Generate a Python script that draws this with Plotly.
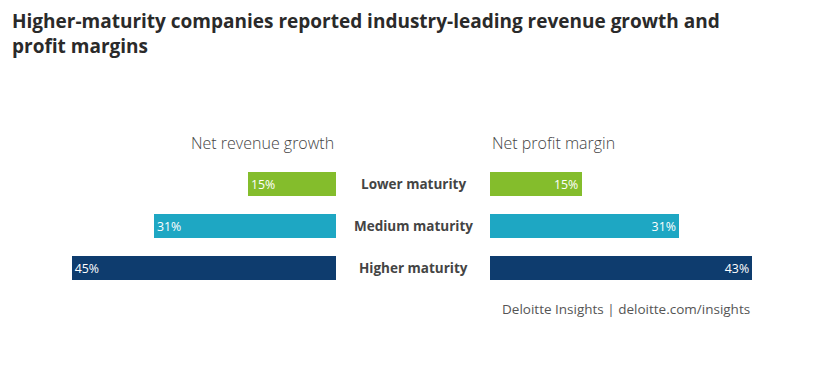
import plotly.graph_objects as go

categories = ["Lower maturity", "Medium maturity", "Higher maturity"]
revenue_growth = [15, 31, 45]
profit_margin = [15, 31, 43]
bar_colors = ["#84bd2c", "#1ea7c3", "#0e3c6e"]
headers = ["Net revenue growth", "Net profit margin"]
title_text = "Higher-maturity companies reported industry-leading revenue growth and<br>profit margins"
source_text = "Deloitte Insights | deloitte.com/insights"

W, H = 828, 371
fig = go.Figure()

fig.add_trace(go.Bar(
    y=categories, x=revenue_growth, orientation="h",
    marker=dict(color=bar_colors, line=dict(width=0)),
    text=[f"{v}%" for v in revenue_growth], textposition="inside",
    insidetextanchor="end", textangle=0,
    textfont=dict(color="white", size=13, family="Open Sans"),
    xaxis="x", yaxis="y", width=0.55, hoverinfo="skip"))

fig.add_trace(go.Bar(
    y=categories, x=profit_margin, orientation="h",
    marker=dict(color=bar_colors, line=dict(width=0)),
    text=[f"{v}%" for v in profit_margin], textposition="inside",
    insidetextanchor="end", textangle=0,
    textfont=dict(color="white", size=13, family="Open Sans"),
    xaxis="x2", yaxis="y2", width=0.55, hoverinfo="skip"))

ydom = [1 - 289 / H, 1 - 163 / H]
yax = dict(domain=ydom, categoryorder="array", categoryarray=categories,
           autorange="reversed", showticklabels=False, showgrid=False,
           zeroline=False, showline=False, fixedrange=True)

fig.update_layout(
    width=W, height=H,
    margin=dict(l=0, r=0, t=0, b=0),
    paper_bgcolor="white", plot_bgcolor="white",
    showlegend=False, bargap=0,
    font=dict(family="Open Sans", color="#444"),
    xaxis=dict(domain=[0, 336 / W], range=[57.2, 0], visible=False, fixedrange=True),
    xaxis2=dict(domain=[490 / W, 1], range=[0, 55.4], visible=False, fixedrange=True),
    yaxis=dict(**yax),
    yaxis2=dict(**yax, anchor="x2", matches="y"),
)

annotations = [
    dict(text=title_text, x=10 / W, y=1 - 6 / H, xref="paper", yref="paper",
         xanchor="left", yanchor="top", align="left", showarrow=False,
         font=dict(size=19, color="#2a2a2a", family="Open Sans", weight="bold")),
    dict(text=headers[0], x=336 / W, y=1 - 143 / H, xref="paper", yref="paper",
         xanchor="right", yanchor="middle", showarrow=False,
         font=dict(size=16, color="#444", family="Open Sans", weight=300)),
    dict(text=headers[1], x=490 / W, y=1 - 143 / H, xref="paper", yref="paper",
         xanchor="left", yanchor="middle", showarrow=False,
         font=dict(size=16, color="#444", family="Open Sans", weight=300)),
    dict(text=source_text, x=752 / W, y=1 - 309 / H, xref="paper", yref="paper",
         xanchor="right", yanchor="middle", showarrow=False,
         font=dict(size=13.5, color="#555", family="Open Sans")),
]
for c in categories:
    annotations.append(dict(text=c, x=413 / W, y=c, xref="paper", yref="y",
                            xanchor="center", yanchor="middle", showarrow=False,
                            font=dict(size=13.5, color="#444", family="Open Sans", weight="bold")))
fig.update_layout(annotations=annotations)

fig.write_html("out.html", config={"displayModeBar": False, "staticPlot": True},
               post_script="document.body.style.margin='0';")
